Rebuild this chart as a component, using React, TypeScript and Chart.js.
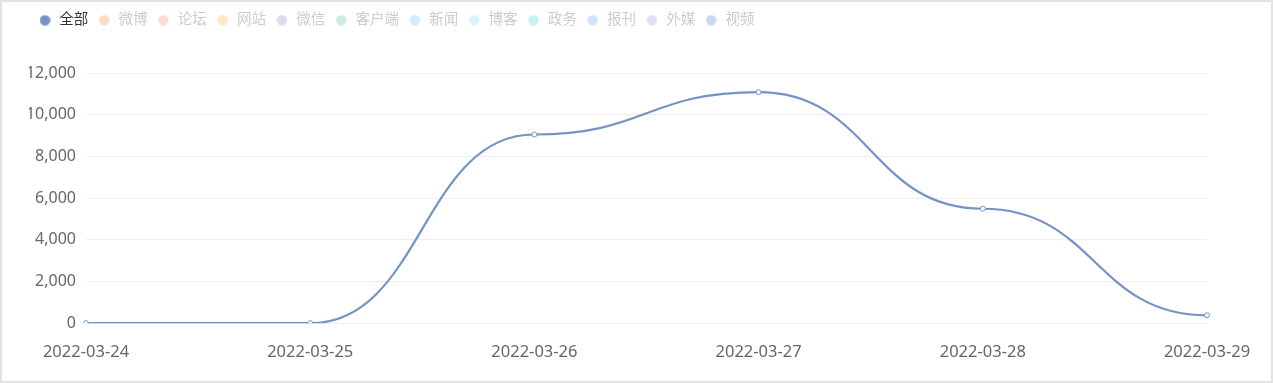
import React, { useEffect, useRef } from "react";
import { Chart, registerables } from "chart.js";

Chart.register(...registerables);

const categories = ["2022-03-24", "2022-03-25", "2022-03-26", "2022-03-27", "2022-03-28", "2022-03-29"];
const allValues = [0, 0, 9050, 11080, 5490, 380];
const seriesNames = ["全部", "微博", "论坛", "网站", "微信", "客户端", "新闻", "博客", "政务", "报刊", "外媒", "视频"];
const seriesColors = ["#7393c5", "#fddcc2", "#fcdad8", "#fde8c2", "#dcdcf0", "#c8eedb", "#d2ebfb", "#dcf3fc", "#c8eff4", "#d3e3fb", "#e0e0f6", "#ccd8f1"];
const seriesVisible = [true, false, false, false, false, false, false, false, false, false, false, false];
const yTicks = [0, 2000, 4000, 6000, 8000, 10000, 12000];

const FONT = "'Noto Sans', 'Noto Sans CJK SC', sans-serif";
const SMOOTH = 0.5;

const legendSpacing = {
  id: "legendSpacing",
  beforeInit(chart: any) {
    const legend = chart.legend;
    if (!legend) return;
    const orig = legend.fit;
    legend.fit = function fit() {
      orig.bind(legend)();
      this.height = 69;
    };
  },
};

// Horizontal-tangent smoothing (like ECharts smoothMonotone: 'x')
const horizontalSmooth = {
  id: "horizontalSmooth",
  beforeDatasetDraw(chart: any, args: any) {
    const meta = args.meta;
    const line = meta.dataset;
    if (!line || !meta.data || meta.data.length < 2) return;
    line.updateControlPoints(chart.chartArea, meta.iScale ? meta.iScale.axis : "x");
    const pts = meta.data;
    for (let i = 0; i < pts.length; i++) {
      const p = pts[i];
      const prev = pts[i - 1];
      const next = pts[i + 1];
      p.cp1x = prev ? p.x - (p.x - prev.x) * SMOOTH : p.x;
      p.cp1y = p.y;
      p.cp2x = next ? p.x + (next.x - p.x) * SMOOTH : p.x;
      p.cp2y = p.y;
    }
    line._path = undefined;
  },
};

function makeDot(color: string) {
  const c = document.createElement("canvas");
  c.width = 11;
  c.height = 11;
  const ctx = c.getContext("2d");
  if (ctx) {
    ctx.fillStyle = color;
    ctx.beginPath();
    ctx.arc(5.5, 5.5, 5.2, 0, Math.PI * 2);
    ctx.fill();
  }
  return c;
}

export default function App() {
  const ref = useRef<HTMLCanvasElement | null>(null);

  useEffect(() => {
    if (!ref.current) return;
    const dots = seriesColors.map((c) => makeDot(c));
    const datasets = seriesNames.map((name, i) => ({
      label: name,
      data: i === 0 ? allValues : [],
      borderColor: seriesColors[i],
      backgroundColor: seriesColors[i],
      borderWidth: 2.2,
      tension: 0.4,
      pointRadius: 2.5,
      pointBorderWidth: 1,
      pointBackgroundColor: "#ffffff",
      pointBorderColor: seriesColors[i],
      fill: false,
    }));
    const chart = new Chart(ref.current, {
      type: "line",
      data: { labels: categories, datasets },
      plugins: [legendSpacing, horizontalSmooth],
      options: {
        animation: false,
        responsive: true,
        maintainAspectRatio: false,
        layout: { padding: { left: 27, right: 64, top: 5, bottom: 0 } },
        plugins: {
          tooltip: { enabled: false },
          legend: {
            display: true,
            position: "top",
            align: "start",
            onClick: () => {},
            labels: {
              usePointStyle: true,
              boxWidth: 14,
              boxHeight: 11,
              padding: 9,
              font: { family: FONT, size: 14.5 },
              generateLabels: () =>
                seriesNames.map((name, i) => ({
                  text: name,
                  fillStyle: seriesColors[i],
                  strokeStyle: seriesColors[i],
                  lineWidth: 0,
                  pointStyle: dots[i],
                  hidden: false,
                  fontColor: seriesVisible[i] ? "#333333" : "#cccccc",
                  datasetIndex: i,
                })),
            },
          },
        },
        scales: {
          x: {
            type: "category",
            offset: false,
            grid: { display: false, drawTicks: false },
            border: { display: false },
            ticks: {
              color: "#666666",
              padding: 19,
              maxRotation: 0,
              autoSkip: false,
              font: { family: FONT, size: 16.5 },
            },
          },
          y: {
            min: 0,
            max: 12000,
            afterBuildTicks: (axis: any) => {
              axis.ticks = yTicks.map((v) => ({ value: v }));
            },
            afterFit: (axis: any) => {
              axis.width = 57;
            },
            grid: { color: "#eeeeee", lineWidth: 1, drawTicks: false },
            border: { display: false },
            ticks: {
              color: "#666666",
              padding: 10,
              font: { family: FONT, size: 16 },
              callback: (v: any) => Number(v).toLocaleString("en-US"),
            },
          },
        },
      },
    });
    return () => chart.destroy();
  }, []);

  return (
    <div
      style={{
        position: "absolute",
        left: 0,
        top: 0,
        width: 1273,
        height: 383,
        boxSizing: "border-box",
        border: "2px solid #e3e3e3",
        overflow: "hidden",
        background: "#ffffff",
      }}
    >
      <div style={{ position: "absolute", left: 0, top: -3, width: 1269, height: 382 }}>
        <canvas ref={ref} />
      </div>
    </div>
  );
}
